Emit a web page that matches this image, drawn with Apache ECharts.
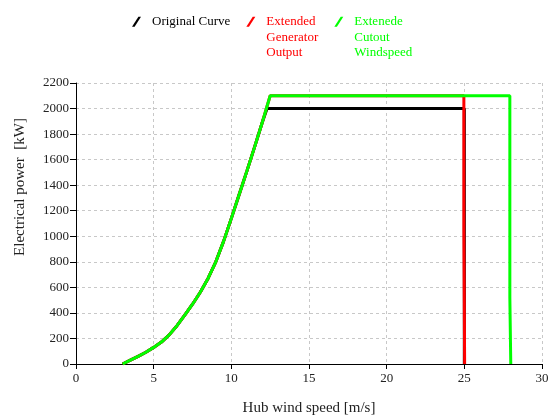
<!DOCTYPE html>
<html>
<head>
<meta charset="utf-8">
<title>Power curve</title>
<script src="https://cdn.jsdelivr.net/npm/echarts@6/dist/echarts.min.js"></script>
<style>
	html,body{margin:0;padding:0;background:#fff;}
	#main{width:549px;height:416px;}
</style>
</head>
<body>
<div id="main"></div>
<script>
// 风速 - 功率 (ramp part shared by all three curves)
var rampSpeed = [3, 3.5, 4, 4.5, 5, 5.5, 6, 6.5, 7, 7.5, 8, 8.5, 9, 9.5, 10, 10.5, 11, 11.5, 12];
var rampPower = [0, 30, 60, 92, 130, 172, 228, 300, 382, 468, 562, 670, 800, 960, 1140, 1325, 1510, 1700, 1895];

// tails after the ramp
var originalSpeed = [12.3, 25, 25];
var originalPower = [2000, 2000, 0];
var generatorSpeed = [12.5, 24.97, 24.97, 25.02, 25.02];
var generatorPower = [2100, 2100, 1050, 1040, 0];
var cutoutSpeed = [12.5, 27.93, 27.93, 27.99, 27.99];
var cutoutPower = [2100, 2100, 520, 510, 0];

var seriesNames = ['Original Curve', 'Extended Generator Output', 'Extenede Cutout Windspeed'];
var legendLabels = ['Original Curve', '\n\nExtended\nGenerator\nOutput', '\n\nExtenede\nCutout\nWindspeed'];
var seriesColors = ['#000000', '#ff0000', '#00ff00'];

var xTicks = {min: 0, max: 30, interval: 5};
var yTicks = {min: 0, max: 2200, interval: 200};

function toPairs(xs, ys){
	var out = [];
	for (var i = 0; i < xs.length; i++) {
		out.push([xs[i], ys[i]]);
	}
	return out;
}

//折线图生成函数
function e_chart(){
	var myChart = echarts.init(document.getElementById('main'));
	var font = 'Liberation Serif';
	var ramp = toPairs(rampSpeed, rampPower);

	var curves = [
		ramp.concat(toPairs(originalSpeed, originalPower)),
		ramp.concat(toPairs(generatorSpeed, generatorPower)),
		ramp.concat(toPairs(cutoutSpeed, cutoutPower))
	];

	var series = [];
	var legendData = [];
	for (var i = 0; i < seriesNames.length; i++) {
		series.push({
			name: seriesNames[i],
			type: 'line',
			data: curves[i],
			symbol: 'none',
			color: seriesColors[i],
			lineStyle: {width: 3, color: seriesColors[i]}
		});
		legendData.push({
			name: seriesNames[i],
			textStyle: {color: seriesColors[i], padding: [0, 0, 0, 6]}
		});
	}

	var axisText = {fontFamily: font, fontSize: 13, color: '#222', formatter: function(v){ return String(v); }};
	var splitStyle = {show: true, lineStyle: {color: '#c8c8c8', type: [3, 3], width: 1}};

	var option = {
		animation: false,
		backgroundColor: '#fff',
		legend: {
			data: legendData,
			left: 132,
			top: -17,
			padding: 0,
			itemGap: 16,
			itemWidth: 9,
			itemHeight: 10,
			icon: 'path://M0,10 L2.6,10 L9,0 L6.4,0 Z',
			itemStyle: {borderWidth: 0},
			textStyle: {fontFamily: font, fontSize: 13, lineHeight: 15.5},
			formatter: function(name){
				return legendLabels[seriesNames.indexOf(name)];
			}
		},
		grid: {left: 76, right: 7, top: 83, bottom: 52, containLabel: false, outerBoundsMode: 'none'},
		xAxis: {										//X轴的设置
			type: 'value',
			min: xTicks.min, max: xTicks.max, interval: xTicks.interval,
			name: 'Hub wind speed [m/s]',
			nameLocation: 'middle',
			nameGap: 37,
			nameTextStyle: {fontFamily: font, fontSize: 15, color: '#222'},
			axisLine: {show: true, onZero: false, lineStyle: {color: '#000', width: 1}},
			axisTick: {show: true, length: 5, lineStyle: {color: '#000'}},
			axisLabel: Object.assign({margin: 8}, axisText),
			splitLine: splitStyle
		},
		yAxis: {										//Y轴的设置
			type: 'value',
			min: yTicks.min, max: yTicks.max, interval: yTicks.interval,
			name: 'Electrical power  [kW]',
			nameLocation: 'middle',
			nameRotate: 90,
			nameGap: 48,
			nameTextStyle: {fontFamily: font, fontSize: 15, color: '#222', padding: [0, 0, 0, 73]},
			axisLine: {show: true, onZero: false, lineStyle: {color: '#000', width: 1}},
			axisTick: {show: true, length: 6, lineStyle: {color: '#000'}},
			axisLabel: Object.assign({margin: 7}, axisText),
			splitLine: splitStyle
		},
		series: series
	};

	myChart.setOption(option);
}

e_chart();
</script>
</body>
</html>
